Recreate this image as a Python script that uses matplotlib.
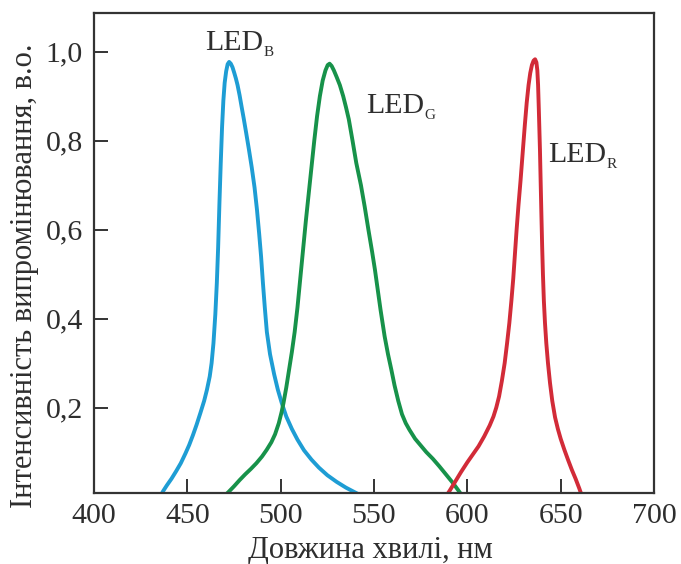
import matplotlib
matplotlib.use("Agg")
import matplotlib.pyplot as plt

# Emission spectra of blue, green and red LEDs (normalised intensity)
blue_nm = [435.5, 437, 439, 441.5, 444, 446.5, 449, 451, 453, 455, 457, 459, 460.5, 462,
           463, 464, 465, 465.8, 466.5, 467.2, 467.9, 468.6, 469.3, 470, 470.8, 471.6,
           472.4, 473.3, 474.2, 475.1, 476.0, 476.9, 478, 479, 480.2, 481.5, 483, 484.5,
           486, 487.3, 488.5, 489.5, 490.5, 491.5, 492.6, 494.3, 496.5, 498.5, 500.6,
           503, 506, 509, 512.5, 516.5, 520.5, 525, 530, 535, 540, 544]
blue_int = [0.0, 0.012, 0.025, 0.04, 0.057, 0.075, 0.097, 0.116, 0.138, 0.162, 0.188,
            0.215, 0.24, 0.27, 0.3, 0.345, 0.41, 0.48, 0.56, 0.66, 0.75, 0.83, 0.89, 0.93,
            0.956, 0.972, 0.977, 0.973, 0.965, 0.953, 0.94, 0.925, 0.902, 0.878, 0.85,
            0.818, 0.78, 0.74, 0.695, 0.645, 0.59, 0.54, 0.48, 0.425, 0.37, 0.32, 0.275,
            0.24, 0.21, 0.18, 0.152, 0.128, 0.104, 0.083, 0.065, 0.048, 0.033, 0.02,
            0.009, 0.0]

green_nm = [469.5, 472, 475, 478, 481, 484, 487, 490, 492.5, 495, 497, 499, 500.5, 501.5,
            503, 504.5, 506, 507.5, 509, 510.5, 512, 513.5, 515, 516.5, 518, 519.5, 521,
            522.5, 524, 525.2, 526.2, 527.3, 528.5, 530, 531.7, 533.5, 535, 536.5, 538.5,
            540.5, 543, 545, 547, 549, 550.5, 552, 553.5, 555.7, 557.5, 559.3, 561, 563,
            565, 567, 569, 572, 575, 578, 581.5, 585, 588.5, 592, 595, 597.5]
green_int = [0.0, 0.01, 0.023, 0.037, 0.05, 0.062, 0.075, 0.09, 0.105, 0.122, 0.14, 0.165,
             0.19, 0.21, 0.245, 0.285, 0.325, 0.37, 0.425, 0.49, 0.555, 0.62, 0.68, 0.74,
             0.8, 0.855, 0.9, 0.935, 0.958, 0.97, 0.973, 0.968, 0.958, 0.943, 0.925, 0.9,
             0.875, 0.848, 0.8, 0.75, 0.7, 0.652, 0.6, 0.55, 0.51, 0.465, 0.42, 0.36, 0.32,
             0.285, 0.25, 0.215, 0.185, 0.165, 0.15, 0.13, 0.115, 0.1, 0.085, 0.068, 0.05,
             0.032, 0.015, 0.0]

red_nm = [588.5, 590.5, 593, 596.6, 600, 603, 606, 609, 612, 614, 615.5, 617, 618.5, 620,
          621.3, 622.5, 623.6, 624.6, 625.5, 626.4, 627.4, 628.5, 629.6, 630.8, 631.8,
          632.8, 633.7, 634.6, 635.5, 636.3, 637, 637.5, 637.9, 638.3, 638.9, 639.3,
          639.7, 640.1, 640.5, 641, 641.6, 642.3, 643.2, 644.3, 645.5, 647, 648.5, 650,
          652, 654, 656, 658, 660, 661.5]
red_int = [0.0, 0.013, 0.03, 0.055, 0.077, 0.095, 0.113, 0.135, 0.16, 0.18, 0.2, 0.225,
           0.26, 0.3, 0.345, 0.39, 0.44, 0.49, 0.545, 0.6, 0.655, 0.71, 0.77, 0.835, 0.885,
           0.925, 0.952, 0.97, 0.98, 0.983, 0.976, 0.958, 0.925, 0.87, 0.78, 0.704, 0.63,
           0.56, 0.5, 0.44, 0.39, 0.345, 0.3, 0.255, 0.215, 0.178, 0.152, 0.13, 0.105,
           0.082, 0.06, 0.04, 0.018, 0.0]

x_ticks = [400, 450, 500, 550, 600, 650, 700]
y_ticks = [0.2, 0.4, 0.6, 0.8, 1.0]
y_tick_labels = ["0,2", "0,4", "0,6", "0,8", "1,0"]

series = [
    (blue_nm, blue_int, "#1e9dd4", "B", (459.5, 1.004)),
    (green_nm, green_int, "#17924a", "G", (545.7, 0.862)),
    (red_nm, red_int, "#d22b38", "R", (643.2, 0.753)),
]

text_color = "#2e2e2e"
plt.rcParams["font.family"] = ["Liberation Serif", "DejaVu Serif"]

fig = plt.figure(figsize=(6.81, 5.64), dpi=100)
ax = fig.add_axes([94 / 681, 71 / 564, 560 / 681, 480 / 564])

for xs, ys, color, sub, (tx, ty) in series:
    ax.plot(xs, ys, color=color, lw=2.8, solid_capstyle="round", solid_joinstyle="round")
    t = ax.text(tx, ty, "LED", fontsize=21.5, color=text_color, ha="left", va="baseline")
    ax.annotate(sub, xy=(1, 0), xycoords=t, fontsize=11, color=text_color,
                ha="left", va="baseline")

ax.set_xlim(400, 700)
ax.set_ylim(0.008, 1.087)
ax.set_xticks(x_ticks)
ax.set_xticklabels([str(v) for v in x_ticks])
ax.set_yticks(y_ticks)
ax.set_yticklabels(y_tick_labels)

ax.tick_params(direction="in", length=10, width=1.4, colors="#333333",
               labelcolor=text_color, labelsize=21.5)
ax.tick_params(axis="x", pad=7)
ax.tick_params(axis="y", pad=8)
ax.tick_params(top=False, right=False)
for s in ax.spines.values():
    s.set_linewidth(1.6)
    s.set_color("#333333")

fig.text(370 / 681, 1 - 558 / 564, "Довжина хвилі, нм", fontsize=22,
         color=text_color, ha="center", va="baseline")
fig.text(25 / 681, 1 - 276 / 564, "Інтенсивність випромінювання, в.о.", fontsize=22,
         color=text_color, ha="center", va="center", rotation=90)

fig.savefig("out.png", dpi=100)
